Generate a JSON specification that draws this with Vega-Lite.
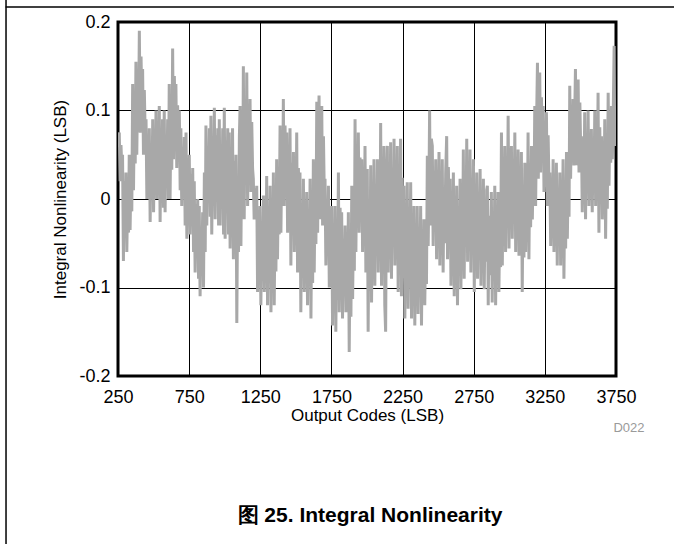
{
"$schema": "https://vega.github.io/schema/vega-lite/v6.json",
"width": 498, "height": 354,
"autosize": {"type": "none"},
"padding": {"left": 118, "top": 22, "right": 58, "bottom": 168},
"background": "white",
"config": {
 "font": "Liberation Sans",
 "view": {"stroke": "black", "strokeWidth": 3},
 "axis": {"grid": true, "gridColor": "black", "gridWidth": 1, "gridOpacity": 1, "domain": false, "ticks": false, "labelFont": "Liberation Sans", "titleFont": "Liberation Sans", "labelColor": "black", "titleColor": "black", "titleFontWeight": "normal", "labelFontSize": 18, "titleFontSize": 17}
},
"layer": [
 {
  "data": {"values": [
{"c":250,"v":0.07},
{"c":259,"v":0.075},{"c":265,"v":0.02},{"c":271,"v":0.061},{"c":277,"v":0.034},
{"c":282,"v":0.05},{"c":288,"v":-0.07},{"c":294,"v":0.02},{"c":300,"v":-0.04},
{"c":306,"v":0.03},{"c":312,"v":-0.06},{"c":318,"v":0.008},{"c":324,"v":-0.038},
{"c":329,"v":0.05},{"c":335,"v":-0.035},{"c":341,"v":0.029},{"c":347,"v":-0.014},
{"c":353,"v":0.13},{"c":359,"v":0.01},{"c":365,"v":0.1},{"c":371,"v":0.04},
{"c":376,"v":0.155},{"c":382,"v":0.05},{"c":388,"v":0.129},{"c":394,"v":0.076},
{"c":400,"v":0.19},{"c":406,"v":0.075},{"c":412,"v":0.161},{"c":418,"v":0.104},
{"c":423,"v":0.147},{"c":429,"v":0.05},{"c":435,"v":0.123},{"c":441,"v":0.074},
{"c":447,"v":0.09},{"c":453,"v":0},{"c":459,"v":0.068},{"c":465,"v":0.022},
{"c":470,"v":0.08},{"c":476,"v":-0.026},{"c":482,"v":0.054},{"c":488,"v":0.001},
{"c":494,"v":0.09},{"c":500,"v":-0.015},{"c":506,"v":0.064},{"c":512,"v":0.011},
{"c":517,"v":0.1},{"c":523,"v":0},{"c":529,"v":0.075},{"c":535,"v":0.025},
{"c":540,"v":0.105},{"c":546,"v":-0.026},{"c":552,"v":0.072},{"c":558,"v":0.007},{"c":563,"v":0.09},{"c":569,"v":-0.01},
{"c":575,"v":0.1},{"c":581,"v":-0.015},{"c":587,"v":0.071},{"c":593,"v":0.014},{"c":599,"v":0.09},{"c":605,"v":0},
{"c":610,"v":0.13},{"c":616,"v":0},{"c":622,"v":0.098},{"c":628,"v":0.033},
{"c":634,"v":0.17},{"c":640,"v":0.045},{"c":646,"v":0.139},{"c":652,"v":0.076},
{"c":657,"v":0.13},{"c":663,"v":0.035},{"c":669,"v":0.106},{"c":675,"v":0.059},{"c":681,"v":0.1},{"c":687,"v":0.01},
{"c":692,"v":0.08},{"c":698,"v":-0.008},{"c":704,"v":0.058},{"c":710,"v":0.014},{"c":716,"v":0.07},{"c":722,"v":-0.03},
{"c":728,"v":0.075},{"c":734,"v":-0.045},{"c":740,"v":0.045},{"c":746,"v":-0.015},
{"c":751,"v":0.05},{"c":757,"v":-0.04},{"c":763,"v":0.028},{"c":769,"v":-0.018},{"c":775,"v":0.035},{"c":781,"v":-0.06},
{"c":786,"v":0.02},{"c":792,"v":-0.083},{"c":798,"v":-0.006},{"c":804,"v":-0.057},{"c":810,"v":0},{"c":816,"v":-0.09},
{"c":821,"v":-0.008},{"c":827,"v":-0.11},{"c":833,"v":-0.034},{"c":839,"v":-0.085},
{"c":845,"v":-0.015},{"c":851,"v":-0.1},{"c":857,"v":0.03},{"c":863,"v":-0.06},
{"c":868,"v":0.083},{"c":874,"v":-0.03},{"c":880,"v":0.055},{"c":886,"v":-0.002},{"c":892,"v":0.08},{"c":898,"v":-0.02},
{"c":903,"v":0.094},{"c":909,"v":-0.04},{"c":915,"v":0.06},{"c":921,"v":-0.006},
{"c":927,"v":0.103},{"c":933,"v":-0.023},{"c":939,"v":0.072},{"c":945,"v":0.008},{"c":951,"v":0.08},{"c":957,"v":-0.03},
{"c":962,"v":0.09},{"c":968,"v":-0.03},{"c":974,"v":0.06},{"c":980,"v":0},{"c":986,"v":0.08},{"c":992,"v":-0.04},
{"c":997,"v":0.103},{"c":1003,"v":-0.045},{"c":1009,"v":0.066},{"c":1015,"v":-0.008},{"c":1021,"v":0.08},{"c":1027,"v":-0.04},
{"c":1032,"v":0.075},{"c":1038,"v":-0.056},{"c":1044,"v":0.042},{"c":1050,"v":-0.023},
{"c":1055,"v":0.08},{"c":1061,"v":-0.068},{"c":1067,"v":0.043},{"c":1073,"v":-0.031},
{"c":1079,"v":0.05},{"c":1085,"v":-0.14},{"c":1091,"v":0.002},{"c":1097,"v":-0.06},{"c":1103,"v":0.07},
{"c":1108,"v":0.105},{"c":1114,"v":-0.053},{"c":1120,"v":0.065},{"c":1126,"v":-0.013},
{"c":1131,"v":0.15},{"c":1137,"v":-0.023},{"c":1143,"v":0.107},{"c":1149,"v":0.02},
{"c":1155,"v":0.143},{"c":1161,"v":-0.008},{"c":1167,"v":0.105},{"c":1173,"v":0.03},
{"c":1178,"v":0.113},{"c":1184,"v":0.008},{"c":1190,"v":0.087},{"c":1196,"v":0.034},
{"c":1201,"v":0.023},{"c":1207,"v":-0.023},{"c":1213,"v":0.012},{"c":1219,"v":-0.012},
{"c":1225,"v":0.015},{"c":1231,"v":-0.105},{"c":1237,"v":-0.015},{"c":1243,"v":-0.075},
{"c":1248,"v":-0.008},{"c":1254,"v":-0.12},{"c":1260,"v":-0.036},{"c":1266,"v":-0.092},
{"c":1272,"v":0.004},{"c":1278,"v":-0.105},{"c":1284,"v":-0.023},{"c":1290,"v":-0.078},
{"c":1295,"v":0.026},{"c":1301,"v":-0.12},{"c":1307,"v":-0.01},{"c":1313,"v":-0.084},
{"c":1319,"v":0.015},{"c":1325,"v":-0.128},{"c":1331,"v":-0.021},{"c":1337,"v":-0.092},
{"c":1342,"v":0.03},{"c":1348,"v":-0.12},{"c":1354,"v":-0.008},{"c":1360,"v":-0.082},
{"c":1365,"v":0.045},{"c":1371,"v":-0.068},{"c":1377,"v":0.017},{"c":1383,"v":-0.04},
{"c":1389,"v":0.083},{"c":1395,"v":-0.038},{"c":1401,"v":0.053},{"c":1407,"v":-0.008},
{"c":1412,"v":0.113},{"c":1418,"v":-0.008},{"c":1424,"v":0.083},{"c":1430,"v":0.022},
{"c":1436,"v":0.075},{"c":1442,"v":-0.038},{"c":1448,"v":0.047},{"c":1454,"v":-0.01},
{"c":1459,"v":0.08},{"c":1465,"v":-0.075},{"c":1471,"v":0.041},{"c":1477,"v":-0.036},
{"c":1483,"v":0.053},{"c":1489,"v":-0.06},{"c":1495,"v":0.025},{"c":1501,"v":-0.032},
{"c":1506,"v":0.075},{"c":1512,"v":-0.083},{"c":1518,"v":0.035},{"c":1524,"v":-0.043},
{"c":1529,"v":0.03},{"c":1535,"v":-0.128},{"c":1541,"v":-0.01},{"c":1547,"v":-0.088},
{"c":1553,"v":0.023},{"c":1559,"v":-0.105},{"c":1565,"v":-0.009},{"c":1571,"v":-0.073},
{"c":1576,"v":0.008},{"c":1582,"v":-0.12},{"c":1588,"v":-0.024},{"c":1594,"v":-0.088},
{"c":1600,"v":0.023},{"c":1606,"v":-0.135},{"c":1612,"v":-0.017},{"c":1618,"v":-0.095},
{"c":1623,"v":0.045},{"c":1629,"v":-0.083},{"c":1635,"v":0.013},{"c":1641,"v":-0.051},
{"c":1647,"v":0.11},{"c":1653,"v":-0.038},{"c":1659,"v":0.073},
{"c":1663,"v":0.117},{"c":1669,"v":-0.023},{"c":1675,"v":0.08},
{"c":1682,"v":0.105},{"c":1688,"v":-0.03},{"c":1694,"v":0.071},{"c":1700,"v":0.004},
{"c":1705,"v":0.023},{"c":1711,"v":-0.075},{"c":1717,"v":-0.002},{"c":1723,"v":-0.05},
{"c":1729,"v":0.015},{"c":1735,"v":-0.1},{"c":1741,"v":-0.014},{"c":1747,"v":-0.071},
{"c":1752,"v":-0.008},{"c":1758,"v":-0.143},{"c":1764,"v":-0.042},{"c":1770,"v":-0.109},
{"c":1775,"v":-0.008},{"c":1781,"v":-0.15},{"c":1787,"v":-0.044},{"c":1793,"v":-0.114},
{"c":1799,"v":0.03},{"c":1805,"v":-0.128},{"c":1811,"v":-0.01},{"c":1817,"v":-0.088},
{"c":1822,"v":-0.015},{"c":1828,"v":-0.135},{"c":1834,"v":-0.045},{"c":1840,"v":-0.105},
{"c":1846,"v":-0.03},{"c":1852,"v":-0.128},{"c":1858,"v":-0.055},{"c":1864,"v":-0.103},
{"c":1869,"v":-0.015},{"c":1875,"v":-0.173},{"c":1881,"v":-0.055},{"c":1887,"v":-0.133},
{"c":1893,"v":0.015},{"c":1899,"v":-0.113},{"c":1905,"v":-0.017},{"c":1911,"v":-0.081},
{"c":1916,"v":0.09},{"c":1922,"v":-0.06},{"c":1928,"v":0.053},{"c":1934,"v":-0.023},
{"c":1939,"v":0.075},{"c":1945,"v":-0.038},{"c":1951,"v":0.047},{"c":1957,"v":-0.01},
{"c":1963,"v":0.045},{"c":1969,"v":-0.06},{"c":1975,"v":0.019},{"c":1981,"v":-0.034},
{"c":1986,"v":0.06},{"c":1992,"v":-0.083},{"c":1998,"v":0.024},
{"c":2002,"v":0.034},{"c":2008,"v":-0.15},{"c":2014,"v":-0.012},{"c":2020,"v":-0.104},
{"c":2026,"v":0.038},{"c":2032,"v":-0.117},{"c":2038,"v":-0.001},{"c":2044,"v":-0.078},
{"c":2049,"v":0.045},{"c":2055,"v":-0.098},{"c":2061,"v":0.009},{"c":2067,"v":-0.062},
{"c":2073,"v":0.045},{"c":2079,"v":-0.083},{"c":2085,"v":0.013},{"c":2091,"v":-0.051},
{"c":2096,"v":0.086},{"c":2102,"v":-0.098},{"c":2108,"v":0.04},{"c":2114,"v":-0.052},
{"c":2119,"v":0.06},{"c":2125,"v":-0.12},{"c":2131,"v":-0.15},{"c":2137,"v":0.02},
{"c":2143,"v":0.06},{"c":2149,"v":-0.083},{"c":2155,"v":0.024},{"c":2161,"v":-0.047},
{"c":2166,"v":0.064},{"c":2172,"v":-0.09},{"c":2178,"v":0.026},{"c":2184,"v":-0.052},
{"c":2190,"v":0.068},{"c":2196,"v":-0.075},{"c":2202,"v":0.032},{"c":2208,"v":-0.039},
{"c":2213,"v":0.06},{"c":2219,"v":-0.105},{"c":2225,"v":0.019},{"c":2231,"v":-0.064},
{"c":2236,"v":0.068},{"c":2242,"v":-0.11},{"c":2248,"v":0.024},{"c":2254,"v":-0.066},
{"c":2260,"v":0.015},{"c":2266,"v":-0.135},{"c":2272,"v":-0.023},{"c":2278,"v":-0.098},
{"c":2283,"v":0.019},{"c":2289,"v":-0.124},{"c":2295,"v":-0.017},{"c":2301,"v":-0.088},
{"c":2307,"v":0.019},{"c":2313,"v":-0.135},{"c":2319,"v":-0.02},{"c":2325,"v":-0.097},
{"c":2330,"v":-0.008},{"c":2336,"v":-0.143},{"c":2342,"v":-0.042},{"c":2348,"v":-0.109},
{"c":2353,"v":-0.008},{"c":2359,"v":-0.13},{"c":2365,"v":-0.039},{"c":2371,"v":-0.1},
{"c":2377,"v":-0.008},{"c":2383,"v":-0.143},{"c":2389,"v":-0.042},{"c":2395,"v":-0.109},
{"c":2400,"v":-0.023},{"c":2406,"v":-0.12},{"c":2412,"v":-0.047},{"c":2418,"v":-0.096},
{"c":2424,"v":0.049},{"c":2430,"v":-0.053},{"c":2436,"v":0.023},
{"c":2440,"v":0.1},{"c":2446,"v":-0.03},{"c":2452,"v":0.068},
{"c":2459,"v":0.06},{"c":2465,"v":-0.053},{"c":2471,"v":0.032},{"c":2477,"v":-0.025},
{"c":2483,"v":0.045},{"c":2489,"v":-0.068},{"c":2495,"v":0.017},{"c":2501,"v":-0.04},
{"c":2506,"v":0.053},{"c":2512,"v":-0.075},{"c":2518,"v":0.021},{"c":2524,"v":-0.043},
{"c":2529,"v":0.045},{"c":2535,"v":-0.083},{"c":2541,"v":0.013},{"c":2547,"v":-0.05},{"c":2553,"v":0.03},
{"c":2560,"v":0.071},{"c":2566,"v":-0.068},{"c":2572,"v":0.036},{"c":2578,"v":-0.033},
{"c":2584,"v":0.023},{"c":2590,"v":-0.098},{"c":2596,"v":-0.007},{"c":2602,"v":-0.068},
{"c":2607,"v":0.03},{"c":2613,"v":-0.11},{"c":2619,"v":-0.005},{"c":2625,"v":-0.075},
{"c":2630,"v":0.015},{"c":2636,"v":-0.12},{"c":2642,"v":-0.019},{"c":2648,"v":-0.086},
{"c":2654,"v":0.023},{"c":2660,"v":-0.102},{"c":2666,"v":-0.008},{"c":2672,"v":-0.071},
{"c":2677,"v":0.056},{"c":2683,"v":-0.09},{"c":2689,"v":0.02},{"c":2695,"v":-0.054},
{"c":2701,"v":0.068},{"c":2707,"v":-0.071},{"c":2713,"v":0.033},{"c":2719,"v":-0.036},
{"c":2724,"v":0.056},{"c":2730,"v":-0.083},{"c":2736,"v":0.021},{"c":2742,"v":-0.048},
{"c":2748,"v":0.045},{"c":2754,"v":-0.105},{"c":2760,"v":0.008},{"c":2766,"v":-0.068},
{"c":2771,"v":0.03},{"c":2777,"v":-0.09},{"c":2783,"v":0},{"c":2789,"v":-0.06},
{"c":2795,"v":0.034},{"c":2801,"v":-0.098},{"c":2807,"v":0.001},{"c":2813,"v":-0.065},
{"c":2818,"v":0.023},{"c":2824,"v":-0.102},{"c":2830,"v":-0.008},{"c":2836,"v":-0.071},{"c":2841,"v":0.01},
{"c":2846,"v":0.015},{"c":2852,"v":-0.12},{"c":2858,"v":-0.019},{"c":2864,"v":-0.086},{"c":2869,"v":-0.05},
{"c":2874,"v":0.008},{"c":2880,"v":-0.117},{"c":2886,"v":-0.023},{"c":2892,"v":-0.086},
{"c":2898,"v":0.015},{"c":2904,"v":-0.12},{"c":2910,"v":-0.019},{"c":2916,"v":-0.086},
{"c":2921,"v":0.008},{"c":2927,"v":-0.105},{"c":2933,"v":-0.02},{"c":2939,"v":-0.077},
{"c":2945,"v":0.075},{"c":2951,"v":-0.075},{"c":2957,"v":0.038},{"c":2963,"v":-0.038},
{"c":2968,"v":0.06},{"c":2974,"v":-0.06},{"c":2980,"v":0.03},{"c":2986,"v":-0.03},
{"c":2992,"v":0.094},{"c":2998,"v":-0.056},{"c":3004,"v":0.057},{"c":3010,"v":-0.019},
{"c":3015,"v":0.06},{"c":3021,"v":-0.045},{"c":3027,"v":0.034},{"c":3033,"v":-0.019},
{"c":3039,"v":0.075},{"c":3045,"v":-0.06},{"c":3051,"v":0.041},{"c":3057,"v":-0.026},
{"c":3062,"v":0.056},{"c":3068,"v":-0.064},{"c":3074,"v":0.026},{"c":3080,"v":-0.034},
{"c":3085,"v":0.053},{"c":3091,"v":-0.105},{"c":3097,"v":0.014},{"c":3103,"v":-0.066},
{"c":3109,"v":0.041},{"c":3115,"v":-0.06},{"c":3121,"v":0.016},{"c":3127,"v":-0.035},
{"c":3132,"v":0.075},{"c":3138,"v":-0.068},{"c":3144,"v":0.039},{"c":3150,"v":-0.032},
{"c":3156,"v":0.06},{"c":3162,"v":-0.023},{"c":3168,"v":0.039},{"c":3174,"v":-0.002},
{"c":3179,"v":0.105},{"c":3185,"v":-0.008},{"c":3191,"v":0.077},
{"c":3198,"v":0.154},{"c":3204,"v":0.023},{"c":3210,"v":0.121},
{"c":3214,"v":0.143},{"c":3220,"v":0.03},{"c":3226,"v":0.115},{"c":3232,"v":0.058},
{"c":3238,"v":0.105},{"c":3244,"v":0.008},{"c":3250,"v":0.081},{"c":3256,"v":0.032},
{"c":3261,"v":0.098},{"c":3267,"v":-0.008},{"c":3273,"v":0.072},{"c":3279,"v":0.019},
{"c":3285,"v":0.03},{"c":3291,"v":-0.053},{"c":3297,"v":0.009},{"c":3303,"v":-0.032},
{"c":3308,"v":0.045},{"c":3314,"v":-0.06},{"c":3320,"v":0.019},{"c":3326,"v":-0.034},
{"c":3331,"v":0.041},{"c":3337,"v":-0.075},{"c":3343,"v":0.012},{"c":3349,"v":-0.046},
{"c":3355,"v":0.03},{"c":3361,"v":-0.075},{"c":3367,"v":0.004},{"c":3373,"v":-0.049},
{"c":3378,"v":0.045},{"c":3384,"v":-0.09},{"c":3390,"v":0.011},{"c":3396,"v":-0.056},
{"c":3402,"v":0.053},{"c":3408,"v":-0.045},{"c":3414,"v":0.029},{"c":3420,"v":-0.02},
{"c":3425,"v":0.128},{"c":3431,"v":0.023},{"c":3437,"v":0.102},{"c":3443,"v":0.049},
{"c":3448,"v":0.113},{"c":3454,"v":0.038},{"c":3460,"v":0.094},
{"c":3465,"v":0.147},{"c":3471,"v":0.038},{"c":3477,"v":0.12},
{"c":3484,"v":0.135},{"c":3490,"v":0.03},{"c":3496,"v":0.109},{"c":3502,"v":0.056},
{"c":3507,"v":0.071},{"c":3513,"v":-0.015},{"c":3519,"v":0.05},{"c":3525,"v":0.007},
{"c":3530,"v":0.098},{"c":3536,"v":-0.023},{"c":3542,"v":0.068},{"c":3548,"v":0.007},
{"c":3554,"v":0.1},{"c":3560,"v":-0.008},{"c":3566,"v":0.073},{"c":3572,"v":0.019},
{"c":3577,"v":0.079},{"c":3583,"v":-0.015},{"c":3589,"v":0.056},{"c":3595,"v":0.009},
{"c":3601,"v":0.1},{"c":3607,"v":-0.008},{"c":3613,"v":0.073},{"c":3619,"v":0.019},
{"c":3624,"v":0.12},{"c":3630,"v":-0.038},{"c":3636,"v":0.081},{"c":3642,"v":0.002},
{"c":3648,"v":0.071},{"c":3654,"v":-0.023},{"c":3660,"v":0.048},{"c":3666,"v":0.001},
{"c":3671,"v":0.09},{"c":3677,"v":-0.045},{"c":3683,"v":0.056},{"c":3689,"v":-0.011},
{"c":3695,"v":0.12},{"c":3701,"v":0.015},{"c":3707,"v":0.094},{"c":3713,"v":0.041},
{"c":3718,"v":0.105},{"c":3724,"v":0.045},{"c":3730,"v":0.09},
{"c":3737,"v":0.173},{"c":3741,"v":0.06},{"c":3745,"v":0.065}
  ]},
  "mark": {"type": "line", "stroke": "#a8a8a8", "strokeWidth": 3, "clip": true},
  "encoding": {
   "x": {"field": "c", "type": "quantitative", "scale": {"domain": [250, 3750], "nice": false, "zero": false},
         "axis": {"values": [250, 750, 1250, 1750, 2250, 2750, 3250, 3750], "format": "d", "labelPadding": 12, "titlePadding": 1, "title": "Output Codes (LSB)", "labelFlush": false}},
   "y": {"field": "v", "type": "quantitative", "scale": {"domain": [-0.2, 0.2], "nice": false, "zero": false},
         "axis": {"values": [-0.2, -0.1, 0, 0.1, 0.2], "labelExpr": "datum.value == 0 ? '0' : (datum.value < 0 ? '-' + format(-datum.value, '.1f') : format(datum.value, '.1f'))", "labelPadding": 8, "titlePadding": 9, "title": "Integral Nonlinearity (LSB)", "labelFlush": false}}
  }
 },
 {
  "data": {"values": [{}]},
  "mark": {"type": "rule", "stroke": "black", "strokeWidth": 1.5, "clip": false},
  "encoding": {"y": {"datum": 0.217}, "x": {"datum": -540}, "x2": {"datum": 4300}}
 },
 {
  "data": {"values": [{}]},
  "mark": {"type": "rule", "stroke": "black", "strokeWidth": 1.5, "clip": false},
  "encoding": {"x": {"datum": -537}, "y": {"datum": 0.23}, "y2": {"datum": -0.4}}
 },
 {
  "data": {"values": [{}]},
  "mark": {"type": "text", "text": "图 25. Integral Nonlinearity", "font": "Liberation Sans", "fontWeight": "bold", "fontSize": 21, "fill": "black", "align": "center", "baseline": "middle", "clip": false},
  "encoding": {"x": {"datum": 2021}, "y": {"datum": -0.358}}
 },
 {
  "data": {"values": [{}]},
  "mark": {"type": "text", "text": "D022", "font": "Liberation Sans", "fontSize": 13, "fill": "#9a9a9a", "align": "center", "baseline": "middle", "clip": false},
  "encoding": {"x": {"datum": 3841}, "y": {"datum": -0.2588}}
 }
]
}
